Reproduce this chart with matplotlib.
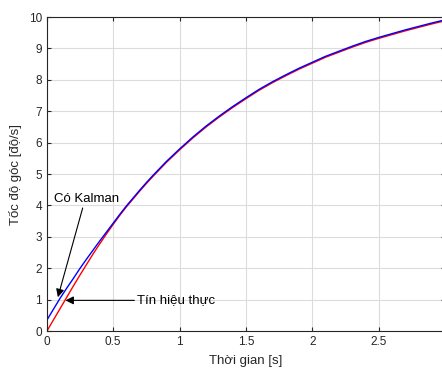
import matplotlib
matplotlib.use("Agg")
import matplotlib.pyplot as plt

plt.rcParams['font.family'] = ['Liberation Sans', 'DejaVu Sans']

# time [s]
t = [0.0, 0.05, 0.1, 0.15, 0.2, 0.25, 0.3, 0.35, 0.4, 0.45, 0.5,
     0.55, 0.6, 0.65, 0.7, 0.75, 0.8, 0.85, 0.9, 0.95, 1.0,
     1.1, 1.2, 1.3, 1.4, 1.5, 1.6, 1.7, 1.8, 1.9, 2.0,
     2.1, 2.2, 2.3, 2.4, 2.5, 2.6, 2.7, 2.8, 2.9, 3.0]
# true signal (red)
real = [0.0, 0.36, 0.72, 1.08, 1.44, 1.79, 2.13, 2.47, 2.79, 3.10, 3.40,
        3.69, 3.96, 4.21, 4.46, 4.70, 4.93, 5.15, 5.37, 5.57, 5.77,
        6.15, 6.50, 6.82, 7.12, 7.40, 7.67, 7.91, 8.13, 8.34, 8.53,
        8.72, 8.88, 9.04, 9.19, 9.32, 9.44, 9.56, 9.67, 9.78, 9.88]
# Kalman estimate (blue)
kalman = [0.35, 0.70, 1.05, 1.37, 1.68, 2.00, 2.30, 2.59, 2.88, 3.16, 3.44,
          3.72, 3.99, 4.24, 4.49, 4.73, 4.96, 5.18, 5.40, 5.60, 5.80,
          6.18, 6.53, 6.85, 7.15, 7.43, 7.70, 7.94, 8.16, 8.37, 8.56,
          8.75, 8.91, 9.07, 9.22, 9.35, 9.47, 9.59, 9.70, 9.81, 9.91]

fig = plt.figure(figsize=(4.42, 3.70), dpi=100)
ax = fig.add_axes([0.106, 0.105, 0.901, 0.849])

ax.plot(t, real, color='red', lw=1.0)
ax.plot(t, kalman, color='blue', lw=1.0)

ax.set_xlim(0, 3)
ax.set_ylim(0, 10)
ax.set_xticks([0, 0.5, 1, 1.5, 2, 2.5, 3])
ax.set_xticklabels(['0', '0.5', '1', '1.5', '2', '2.5', ''])
ax.set_yticks(range(0, 11))
ax.grid(True, color='#dcdcdc', lw=0.8)
ax.set_axisbelow(True)
ax.tick_params(colors='#262626', labelsize=8.5, length=3, direction='in',
               top=True, right=True)
for s in ax.spines.values():
    s.set_color('#262626')
    s.set_linewidth(0.8)

ax.set_xlabel('Thời gian [s]', fontsize=9.5, color='#262626', labelpad=5)
ax.set_ylabel('Tốc độ góc [độ/s]', fontsize=9.5, color='#262626', labelpad=5)

ax.annotate('Có Kalman', xy=(0.083, 1.08), xytext=(0.055, 4.2),
            fontsize=9.5, va='center', ha='left',
            arrowprops=dict(arrowstyle='-|>', color='black', lw=0.8,
                            mutation_scale=12, shrinkA=0, shrinkB=0,
                            relpos=(0.45, 0.0)))
ax.annotate('Tín hiệu thực', xy=(0.14, 0.98), xytext=(0.68, 0.98),
            fontsize=9.5, va='center', ha='left',
            arrowprops=dict(arrowstyle='-|>', color='black', lw=0.8,
                            mutation_scale=12, shrinkA=0, shrinkB=0,
                            relpos=(0.0, 0.5)))

fig.savefig('out.png', dpi=100)
